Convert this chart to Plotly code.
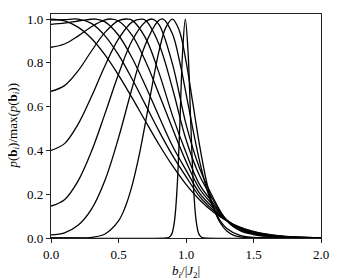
import plotly.graph_objects as go

# Curve data (normalised distributions p(b_i)/max p(b_i))
x_a = [0.0,0.1,0.2,0.3,0.4,0.5,0.6,0.7,0.8,0.9,1.0,1.1,1.2,1.3,1.4,1.5,1.6,1.7,1.8,1.9,2.0]
y_a = [1.0,0.992,0.963,0.911,0.836,0.744,0.641,0.533,0.427,0.330,0.245,0.175,0.120,0.079,0.050,0.030,0.0175,0.0097,0.0051,0.0026,0.0013]

x_b = [0.0,0.1,0.2,0.3,0.4,0.5,0.6,0.7,0.8,0.9,1.0,1.1,1.2,1.3,1.4,1.5,1.6,1.7,1.8,1.9,2.0]
y_b = [0.995,0.997,1.0,0.980,0.923,0.836,0.727,0.608,0.488,0.377,0.280,0.190,0.128,0.080,0.048,0.028,0.016,0.0088,0.0046,0.0023,0.0011]

x_c = [0.0,0.1,0.2,0.3,0.33,0.4,0.5,0.6,0.7,0.8,0.9,1.0,1.1,1.2,1.3,1.4,1.5,1.6,1.7,1.8,1.9,2.0]
y_c = [0.976,0.981,0.991,0.999,1.0,0.987,0.926,0.823,0.694,0.555,0.420,0.310,0.205,0.138,0.081,0.046,0.026,0.0145,0.0078,0.0040,0.0020,0.0010]

x_d = [0.0,0.1,0.2,0.3,0.4,0.45,0.5,0.6,0.7,0.8,0.9,1.0,1.1,1.2,1.3,1.4,1.5,1.6,1.7,1.8,1.9,2.0]
y_d = [0.871,0.886,0.922,0.965,0.996,1.0,0.991,0.926,0.807,0.657,0.50,0.350,0.225,0.150,0.082,0.044,0.024,0.013,0.0068,0.0034,0.0017,0.0008]

x_e = [0.0,0.1,0.2,0.3,0.4,0.5,0.57,0.6,0.7,0.8,0.9,1.0,1.1,1.2,1.3,1.4,1.5,1.6,1.7,1.8,1.9,2.0]
y_e = [0.670,0.696,0.763,0.854,0.939,0.993,1.0,0.995,0.914,0.754,0.559,0.390,0.245,0.160,0.083,0.041,0.021,0.011,0.0056,0.0027,0.0013,0.0006]

x_f = [0.0,0.1,0.2,0.3,0.4,0.5,0.6,0.67,0.7,0.8,0.9,1.0,1.1,1.2,1.3,1.4,1.5,1.6,1.7,1.8,1.9,2.0]
y_f = [0.40,0.431,0.519,0.646,0.787,0.909,0.986,1.0,0.994,0.885,0.683,0.450,0.285,0.175,0.083,0.038,0.019,0.0095,0.0046,0.0021,0.0010,0.0005]

x_g = [0.0,0.1,0.2,0.3,0.4,0.5,0.6,0.7,0.75,0.8,0.9,1.0,1.1,1.2,1.3,1.4,1.5,1.6,1.7,1.8,1.9,2.0]
y_g = [0.146,0.175,0.260,0.396,0.568,0.748,0.901,0.988,1.0,0.975,0.794,0.520,0.320,0.185,0.080,0.034,0.016,0.0075,0.0034,0.0015,0.0007,0.0003]

x_h = [0.0,0.1,0.2,0.3,0.4,0.5,0.6,0.7,0.8,0.83,0.9,0.95,1.0,1.05,1.1,1.15,1.2,1.25,1.3,1.4,1.5,1.6,1.8,2.0]
y_h = [0.014,0.0236,0.058,0.132,0.264,0.457,0.683,0.885,0.994,1.0,0.932,0.814,0.661,0.50,0.352,0.231,0.141,0.082,0.045,0.012,0.003,0.0005,0.0,0.0]

x_i = [0.0,0.1,0.2,0.3,0.4,0.5,0.55,0.6,0.65,0.7,0.75,0.8,0.85,0.9,0.95,1.0,1.05,1.1,1.15,1.2,1.25,1.3,1.35,1.4,1.5,1.6,1.8,2.0]
y_i = [0.0,0.0,0.0004,0.0032,0.0185,0.078,0.142,0.238,0.369,0.528,0.698,0.853,0.961,1.0,0.948,0.808,0.618,0.425,0.263,0.146,0.073,0.033,0.0132,0.0048,0.0005,0.0,0.0,0.0]

x_j = [0.0,0.855,0.875,0.895,0.915,0.935,0.955,0.975,0.995,1.015,1.035,1.055,1.075,1.095,1.115,1.135,2.0]
y_j = [0.0,0.0004,0.0033,0.0189,0.079,0.240,0.530,0.853,1.0,0.853,0.530,0.240,0.079,0.0189,0.0033,0.0004,0.0]

curves = [(x_a, y_a), (x_b, y_b), (x_c, y_c), (x_d, y_d), (x_e, y_e),
          (x_f, y_f), (x_g, y_g), (x_h, y_h), (x_i, y_i), (x_j, y_j)]

x_ticks = [0.0, 0.5, 1.0, 1.5, 2.0]
y_ticks = [0.0, 0.2, 0.4, 0.6, 0.8, 1.0]

FONT = "Liberation Serif"

fig = go.Figure()
for xs, ys in curves:
    fig.add_trace(go.Scatter(x=xs, y=ys, mode="lines",
                             line=dict(color="black", width=1.3, shape="spline", smoothing=1.0),
                             showlegend=False, hoverinfo="skip"))

axis_common = dict(showgrid=False, zeroline=False, showline=True, linecolor="#222",
                   linewidth=1.2, mirror=True, ticks="outside", ticklen=4, tickwidth=1,
                   tickcolor="#222", tickfont=dict(family=FONT, size=13, color="black"),
                   tickformat=".1f", automargin=False)

fig.update_xaxes(range=[0, 2], tickvals=x_ticks, **axis_common)
fig.update_yaxes(range=[0, 1.023], tickvals=y_ticks, **axis_common)

fig.add_annotation(text="<i>b</i><sub><i>i</i></sub>/|<i>J</i><sub>2</sub>|",
                   xref="paper", yref="paper", x=0.5, y=0, yanchor="top", yshift=-23,
                   showarrow=False, font=dict(family=FONT, size=13, color="black"))
fig.add_annotation(text="<i>p</i>(<b>b</b><sub><i>i</i></sub>)/max(<i>p</i>(<b>b</b><sub><i>i</i></sub>))",
                   xref="paper", yref="paper", x=0, y=0.5, xanchor="right", xshift=-28,
                   textangle=-90, showarrow=False, font=dict(family=FONT, size=13, color="black"))

# page body has an 8px default margin, so the figure is sized/margined to land the
# plot area at the reference position inside the 338x280 window
fig.update_layout(width=330, height=272, margin=dict(l=43, r=17, t=6, b=42, autoexpand=False),
                  paper_bgcolor="white", plot_bgcolor="white")

fig.write_html("out.html")
